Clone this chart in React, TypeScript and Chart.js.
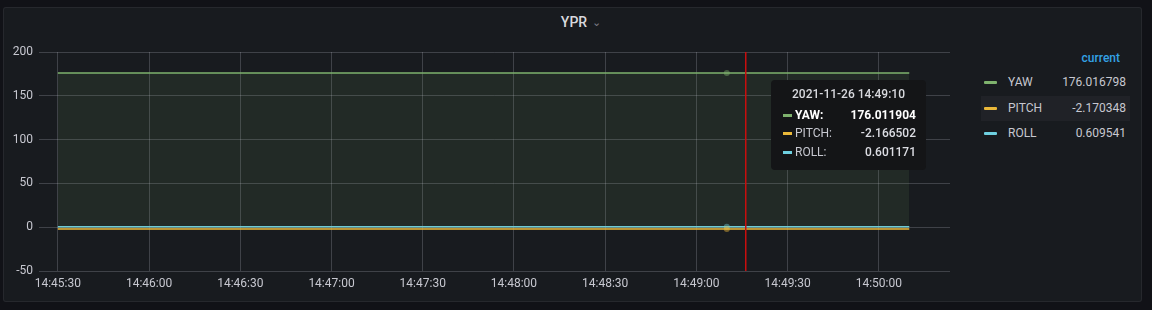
import React, { useEffect, useRef } from "react";
import { Chart, registerables } from "chart.js";

Chart.register(...registerables);

const DATE = "2021-11-26";
const TIMES = [
  "14:45:30", "14:45:40", "14:45:50", "14:46:00", "14:46:10", "14:46:20",
  "14:46:30", "14:46:40", "14:46:50", "14:47:00", "14:47:10", "14:47:20",
  "14:47:30", "14:47:40", "14:47:50", "14:48:00", "14:48:10", "14:48:20",
  "14:48:30", "14:48:40", "14:48:50", "14:49:00", "14:49:10", "14:49:20",
  "14:49:30", "14:49:40", "14:49:50", "14:50:00", "14:50:10",
];
const YAW = [
  176.012841, 176.013502, 176.011327, 176.014876, 176.012093, 176.010658,
  176.013941, 176.015207, 176.012576, 176.011834, 176.014312, 176.013065,
  176.010972, 176.012448, 176.014737, 176.013159, 176.011602, 176.012985,
  176.014401, 176.013276, 176.012117, 176.013844, 176.011904, 176.014528,
  176.015063, 176.013719, 176.015892, 176.016251, 176.016798,
];
const PITCH = [
  -2.164215, -2.165093, -2.163876, -2.166314, -2.165527, -2.164902,
  -2.166041, -2.167218, -2.165683, -2.164759, -2.166892, -2.165311,
  -2.164487, -2.165962, -2.167035, -2.166128, -2.165244, -2.166573,
  -2.167412, -2.166019, -2.165378, -2.166845, -2.166502, -2.167691,
  -2.168234, -2.167905, -2.169116, -2.169782, -2.170348,
];
const ROLL = [
  0.598412, 0.599237, 0.597865, 0.600144, 0.599518, 0.598903,
  0.600476, 0.601322, 0.599871, 0.598755, 0.600913, 0.599604,
  0.598322, 0.600087, 0.601459, 0.600628, 0.599742, 0.600835,
  0.601967, 0.600544, 0.599983, 0.601608, 0.601171, 0.602894,
  0.603917, 0.604682, 0.606235, 0.607853, 0.609541,
];
const X_TICKS = [
  "14:45:30", "14:46:00", "14:46:30", "14:47:00", "14:47:30",
  "14:48:00", "14:48:30", "14:49:00", "14:49:30", "14:50:00",
];
const Y_TICKS = [-50, 0, 50, 100, 150, 200];
const X_MIN = "14:45:23.8";
const X_MAX = "14:50:23.4";
const HOVER_TIME = "14:49:10";
const CROSSHAIR_TIME = "14:49:16";

const SERIES = [
  { name: "YAW", values: YAW, color: "#7eb26d" },
  { name: "PITCH", values: PITCH, color: "#eab839" },
  { name: "ROLL", values: ROLL, color: "#6ed0e0" },
];

const toSec = (t: string) => {
  const [h, m, s] = t.split(":");
  return Number(h) * 3600 + Number(m) * 60 + Number(s);
};
const fmt = (v: number) => {
  const h = Math.floor(v / 3600);
  const m = Math.floor((v % 3600) / 60);
  const s = Math.round(v % 60);
  const p = (n: number) => String(n).padStart(2, "0");
  return `${p(h)}:${p(m)}:${p(s)}`;
};
const hexA = (hex: string, a: number) => {
  const n = parseInt(hex.slice(1), 16);
  return `rgba(${(n >> 16) & 255},${(n >> 8) & 255},${n & 255},${a})`;
};

const HOVER_INDEX = TIMES.indexOf(HOVER_TIME);
const FONT = "Roboto, 'Noto Sans', sans-serif";
const TEXT = "#c7c8d0";

export default function App() {
  const ref = useRef<HTMLCanvasElement | null>(null);

  useEffect(() => {
    if (!ref.current) return;
    const crosshair = {
      id: "redCrosshair",
      afterDraw(chart: any) {
        const { ctx, chartArea, scales } = chart;
        const x = Math.round(scales.x.getPixelForValue(toSec(CROSSHAIR_TIME)));
        ctx.save();
        ctx.globalAlpha = 1;
        ctx.fillStyle = "rgb(200,14,14)";
        ctx.fillRect(x, Math.round(chartArea.top), 1.5, Math.round(chartArea.bottom - chartArea.top));
        ctx.restore();
      },
    };
    const chart = new Chart(ref.current, {
      type: "line",
      data: {
        datasets: SERIES.map((s) => ({
          label: s.name,
          data: TIMES.map((t, i) => ({ x: toSec(t), y: s.values[i] })),
          borderColor: s.color,
          borderWidth: 1.5,
          backgroundColor: hexA(s.color, 0.1),
          fill: "origin",
          tension: 0,
          pointRadius: (c: any) => (c.dataIndex === HOVER_INDEX ? 3 : 0),
          pointBackgroundColor: hexA(s.color, 0.45),
          pointBorderWidth: 0,
          pointHoverRadius: 0,
        })),
      },
      options: {
        animation: false,
        responsive: false,
        events: [],
        layout: { padding: { top: 52, right: 10, bottom: 4, left: 0 } },
        plugins: { legend: { display: false }, tooltip: { enabled: false } },
        scales: {
          x: {
            type: "linear",
            min: toSec(X_MIN),
            max: toSec(X_MAX),
            afterBuildTicks: (sc: any) => {
              sc.ticks = X_TICKS.map((t) => ({ value: toSec(t) }));
            },
            afterFit: (sc: any) => {
              sc.height = 25;
            },
            ticks: {
              autoSkip: false,
              maxRotation: 0,
              padding: 6,
              color: TEXT,
              font: { family: FONT, size: 12 },
              callback: (v: any) => fmt(Number(v)),
            },
            grid: { color: "rgba(204,204,220,0.22)", drawTicks: false },
            border: { display: false },
          },
          y: {
            min: Y_TICKS[0],
            max: Y_TICKS[Y_TICKS.length - 1],
            afterBuildTicks: (sc: any) => {
              sc.ticks = Y_TICKS.map((v) => ({ value: v }));
            },
            afterFit: (sc: any) => {
              sc.width = 39;
            },
            ticks: {
              padding: 6,
              color: TEXT,
              font: { family: FONT, size: 12 },
            },
            grid: { color: "rgba(204,204,220,0.22)", drawTicks: false },
            border: { display: false },
          },
        },
      },
      plugins: [crosshair],
    } as any);
    return () => chart.destroy();
  }, []);

  const hoverRows = SERIES.map((s) => ({ ...s, v: s.values[HOVER_INDEX] }));
  const legendRows = SERIES.map((s) => ({ ...s, v: s.values[s.values.length - 1] }));

  return (
    <div style={{ position: "fixed", inset: 0, background: "#111217", fontFamily: FONT, overflow: "hidden" }}>
      <div
        style={{
          position: "absolute",
          left: 3,
          top: 7,
          width: 1137,
          height: 293,
          background: "#181b1f",
          border: "1px solid rgba(204,204,220,0.08)",
          borderRadius: 3,
        }}
      />
      <div
        style={{
          position: "absolute",
          left: 0,
          width: 1152,
          top: 13,
          textAlign: "center",
          color: "#d8d9de",
          fontSize: 14,
          fontWeight: 500,
          lineHeight: "18px",
        }}
      >
        <span style={{ marginLeft: 10 }}>YPR</span>
        <span style={{ color: "#7b7d85", fontSize: 11, marginLeft: 5, position: "relative", top: -1 }}>&#8964;</span>
      </div>
      <canvas
        ref={ref}
        width={960}
        height={300}
        style={{ position: "absolute", left: 0, top: 0, width: 960, height: 300 }}
      />
      {/* Legend */}
      <div
        style={{
          position: "absolute",
          left: 1070,
          width: 50,
          top: 50,
          textAlign: "right",
          color: "#33a2e5",
          fontSize: 12,
          fontWeight: 500,
          lineHeight: "16px",
        }}
      >
        current
      </div>
      {legendRows.map((r, i) => (
        <div
          key={r.name}
          style={{
            position: "absolute",
            left: 981,
            top: 70 + i * 25.5,
            width: 149,
            height: 25,
            background: i === 1 ? "#202227" : "transparent",
            color: TEXT,
            fontSize: 12,
            lineHeight: "25px",
          }}
        >
          <div
            style={{
              position: "absolute",
              left: 3,
              top: 11,
              width: 13,
              height: 3,
              background: r.color,
              borderRadius: 1,
            }}
          />
          <span style={{ position: "absolute", left: 27 }}>{r.name}</span>
          <span style={{ position: "absolute", right: 4 }}>{String(r.v)}</span>
        </div>
      ))}
      {/* Tooltip */}
      <div
        style={{
          position: "absolute",
          left: 771,
          top: 80,
          width: 155,
          height: 90,
          background: "#141517",
          borderRadius: 4,
          color: TEXT,
          fontSize: 12,
        }}
      >
        <div
          style={{
            position: "absolute",
            left: 0,
            width: 155,
            top: 6,
            textAlign: "center",
            fontWeight: 500,
            color: "#d8d9de",
            lineHeight: "16px",
          }}
        >
          {`${DATE} ${HOVER_TIME}`}
        </div>
        {hoverRows.map((r, i) => (
          <div
            key={r.name}
            style={{
              position: "absolute",
              left: 0,
              width: 155,
              top: 27 + i * 18.3,
              height: 16,
              lineHeight: "16px",
              fontWeight: i === 0 ? 700 : 400,
              color: i === 0 ? "#ffffff" : TEXT,
            }}
          >
            <div
              style={{
                position: "absolute",
                left: 12,
                top: 7,
                width: 9,
                height: 3,
                background: r.color,
              }}
            />
            <span style={{ position: "absolute", left: 24 }}>{`${r.name}:`}</span>
            <span
              style={{
                position: "absolute",
                right: 10,
                fontWeight: i === 0 ? 700 : 500,
                color: i === 0 ? "#ffffff" : "#dcdde3",
              }}
            >
              {String(r.v)}
            </span>
          </div>
        ))}
      </div>
    </div>
  );
}
